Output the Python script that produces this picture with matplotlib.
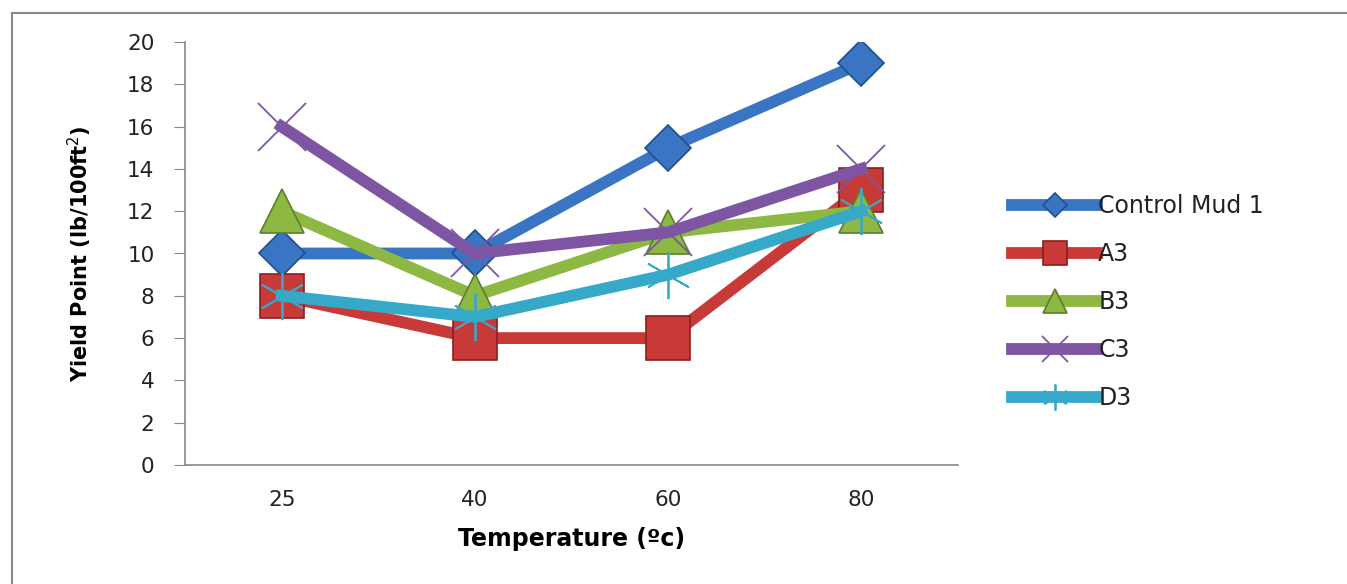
import numpy as np
import matplotlib.pyplot as plt
from matplotlib.patches import Rectangle

# ------- data -------
temps = ["25", "40", "60", "80"]
control_mud_1 = [10, 10, 15, 19]
a3 = [8, 6, 6, 13]
b3 = [12, 8, 11, 12]
c3 = [16, 10, 11, 14]
d3 = [8, 7, 9, 12]

# name, values, line colour, edge colour, marker, marker size
series = [
    ("Control Mud 1", control_mud_1, "#3a75c4", "#1f4e8c", "D", 23),
    ("A3", a3, "#c83a37", "#8a2020", "s", 31),
    ("B3", b3, "#8db843", "#5c7f2a", "^", 32),
    ("C3", c3, "#7e55a3", "#7e55a3", "x", 34),
    ("D3", d3, "#36a9c8", "#36a9c8", (6, 2, 0), 34),
]

plt.rc('font', family='DejaVu Sans')
fig = plt.figure(figsize=(13.47, 5.84), dpi=100)
ax = fig.add_axes([185 / 1347, 1 - 465 / 584, (958 - 185) / 1347, (465 - 42) / 584])

x = np.arange(len(temps))
for name, vals, col, edge, mk, ms in series:
    if mk in ("x", (6, 2, 0)):
        ax.plot(x, vals, '-', color=col, lw=8.5, marker=mk, markersize=ms,
                markeredgewidth=1.3, markeredgecolor=edge, label=name)
    else:
        ax.plot(x, vals, '-', color=col, lw=8.5, marker=mk, markersize=ms,
                markeredgewidth=1.2, markeredgecolor=edge, markerfacecolor=col,
                label=name)

ax.set_xlim(-0.5, len(temps) - 0.5)
ax.set_ylim(0, 20)
ax.set_yticks(range(0, 21, 2))
ax.set_xticks(x)
ax.set_xticklabels(temps)

for s in ["top", "right"]:
    ax.spines[s].set_visible(False)
ax.spines["left"].set_color("#888888")
ax.spines["bottom"].set_color("#888888")
ax.spines["left"].set_linewidth(1.2)
ax.spines["bottom"].set_linewidth(1.2)
ax.tick_params(axis='y', length=8, color="#888888", labelsize=15.5, pad=14,
               labelcolor="#222222")
ax.tick_params(axis='x', length=0, labelsize=15.5, pad=18, labelcolor="#222222")

ax.set_xlabel("Temperature (ºc)", fontsize=17, fontweight='bold', labelpad=12)
ax.set_ylabel("Yield Point (lb/100ft$^{2}$)", fontsize=15, fontweight='bold',
              labelpad=24)

leg = ax.legend(loc='upper left', bbox_to_anchor=(1.07, 0.641), frameon=False,
                fontsize=17, handlelength=3.6, handletextpad=0.05, labelspacing=1.02,
                borderaxespad=0, borderpad=0, markerscale=0.55)
for t in leg.get_texts():
    t.set_color("#222222")

# outer chart-area border
fig.patches.append(Rectangle((12 / 1347, -0.1), 1.2, 1 - 13 / 584 + 0.1,
                             transform=fig.transFigure, fill=False,
                             edgecolor="#8a8a8a", lw=1.5))

fig.savefig("out.png", dpi=100)
